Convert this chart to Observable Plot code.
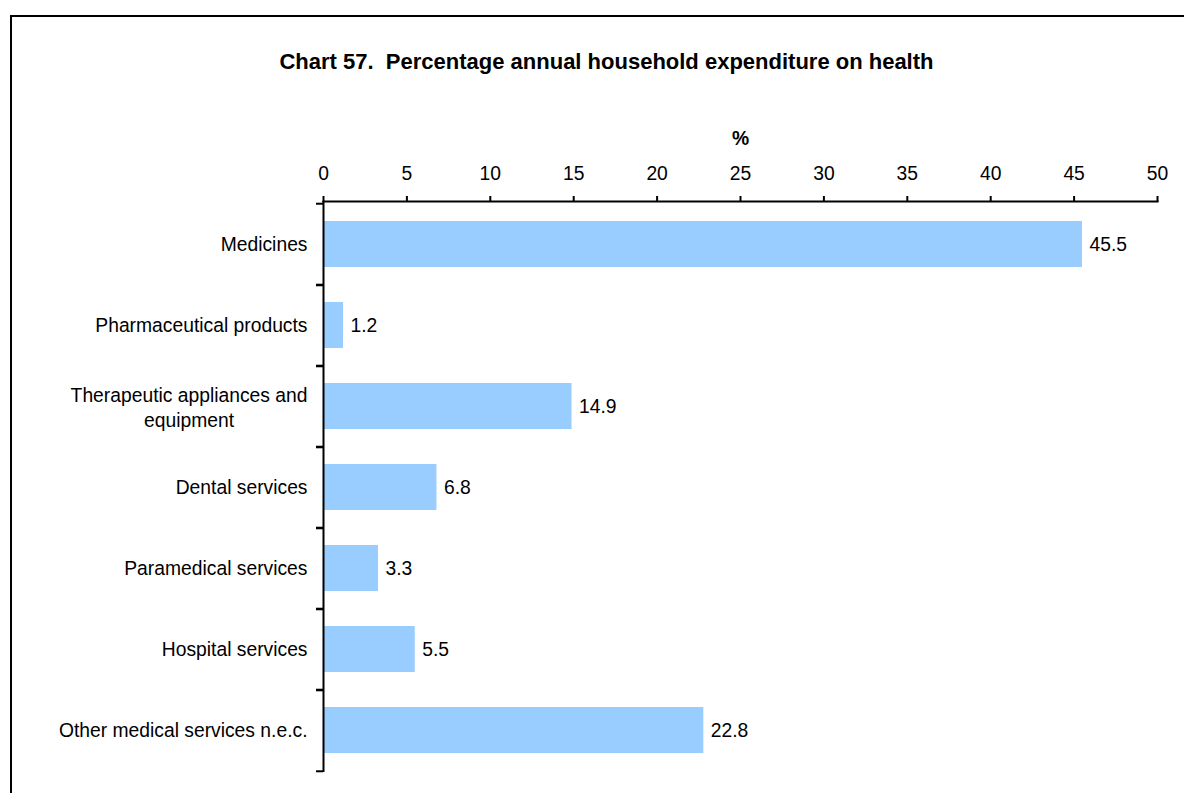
<!DOCTYPE html>
<html><head><meta charset="utf-8">
<script src="https://cdn.jsdelivr.net/npm/d3@7"></script>
<script src="https://cdn.jsdelivr.net/npm/@observablehq/plot@0.6"></script>
<style>
body{margin:0;background:#fff;font-family:"Liberation Sans",Arial,sans-serif;overflow:hidden;}
#frame{position:absolute;left:10px;top:15px;width:1400px;height:1000px;border:2px solid #000;}
#title{position:absolute;left:0;width:1213px;top:49px;text-align:center;font-weight:bold;font-size:22px;white-space:pre;color:#000;}
#chart{position:absolute;left:0;top:0;}
g[aria-label="x-axis label"] text{font-weight:bold;}
</style></head><body>
<div id="frame"></div>
<div id="title">Chart 57.  Percentage annual household expenditure on health</div>
<div id="chart"></div>
<script>
const categories = [
  "Medicines",
  "Pharmaceutical products",
  "Therapeutic appliances and\nequipment",
  "Dental services",
  "Paramedical services",
  "Hospital services",
  "Other medical services n.e.c."
];
const values = [45.5, 1.2, 14.9, 6.8, 3.3, 5.5, 22.8];
const xTicks = [0, 5, 10, 15, 20, 25, 30, 35, 40, 45, 50];
const xLabel = "%";

const data = categories.map((c, i) => ({category: c, value: values[i]}));

const W = 1184, H = 793, mT = 201, mB = 21, mL = 323, mR = 27;
const FS = 19.3;
const step = (H - mT - mB) / categories.length;
const pad = 0.436;

const multi = categories.filter(c => c.includes("\n"));
const ctx = document.createElement("canvas").getContext("2d");
ctx.font = `${FS}px "Liberation Sans"`;
const multiWidth = multi.length ? Math.max(...multi[0].split("\n").map(s => ctx.measureText(s).width)) : 0;
const yPad = 16;

const chart = Plot.plot({
  width: W, height: H,
  marginTop: mT, marginBottom: mB, marginLeft: mL, marginRight: mR,
  style: {fontSize: FS + "px", fontFamily: '"Liberation Sans", Arial, sans-serif', color: "#000", background: "transparent", overflow: "visible"},
  x: {domain: [0, 50]},
  y: {domain: categories, paddingInner: pad, paddingOuter: pad / 2, axis: null},
  marks: [
    Plot.barX(data, {y: "category", x: "value", fill: "#99CCFF"}),
    Plot.text(data, {y: "category", x: "value", text: d => d.value.toFixed(1), textAnchor: "start", dx: 7, fill: "#000"}),
    Plot.ruleX([0], {stroke: "#000", strokeWidth: 2}),
    Plot.frame({anchor: "top", stroke: "#000", strokeWidth: 2}),
    Plot.axisX({anchor: "top", ticks: xTicks, tickSize: 6, tickPadding: 16, strokeWidth: 2, stroke: "#000", label: xLabel, labelAnchor: "center", labelOffset: 70, labelArrow: false}),
    Plot.axisY({tickSize: 7, tickFormat: () => "", dy: step / 2, strokeWidth: 2, stroke: "#000", label: null}),
    Plot.axisY({tickSize: 7, tickFormat: () => "", dy: -step / 2, strokeWidth: 2, stroke: "#000", label: null}),
    Plot.axisY({tickSize: 0, tickPadding: yPad, tickFormat: d => d.includes("\n") ? "" : d, label: null, fill: "#000"}),
    Plot.text(multi, {y: d => d, x: 0, text: d => d, textAnchor: "middle", lineAnchor: "middle", lineHeight: 1.3, dx: -(yPad + multiWidth / 2), fill: "#000"})
  ]
});
document.getElementById("chart").appendChild(chart);
</script>
</body></html>
